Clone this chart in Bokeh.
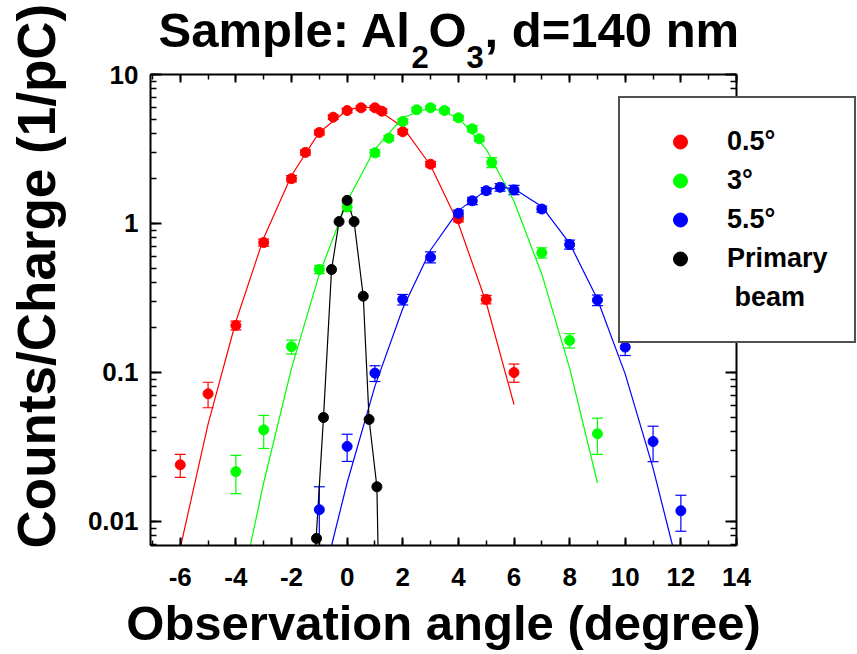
import math
from bokeh.plotting import figure
from bokeh.models import (Range1d, LinearAxis, LogAxis, SingleIntervalTicker, LogTicker,
                          CustomJSTickFormatter, Whisker, TeeHead, ColumnDataSource, Label,
                          Legend, LegendItem)
from bokeh.embed import file_html
from bokeh.resources import INLINE

# ---------------- data ----------------
red_x = [-6, -5, -4, -3, -2, -1.5, -1, -0.5, 0, 0.5, 1, 1.25, 2, 3, 4, 5, 6]
red_y = [0.024, 0.072, 0.207, 0.745, 2.0, 3.0, 4.08, 5.17, 5.73, 5.98, 5.98, 5.67, 4.13, 2.5, 1.075, 0.309, 0.100]
red_err = [0.0042, 0.014, 0.014, 0.04, 0.1, 0.12, 0.15, 0.18, 0.2, 0.2, 0.2, 0.2, 0.15, 0.1, 0.05, 0.02, 0.014]

green_x = [-4, -3, -2, -1, 0, 1, 1.5, 2, 2.5, 3, 3.5, 4, 4.5, 4.75, 5.2, 7, 8, 9]
green_y = [0.0216, 0.0412, 0.149, 0.491, 1.29, 2.98, 3.74, 4.84, 5.8, 5.98, 5.73, 5.12, 4.32, 3.7, 2.57, 0.636, 0.164, 0.0388]
green_err = [0.0062, 0.0103, 0.016, 0.03, 0.08, 0.15, 0.15, 0.2, 0.2, 0.2, 0.2, 0.2, 0.2, 0.15, 0.2, 0.05, 0.018, 0.0106]

blue_x = [-1, 0, 1, 2, 3, 4, 4.5, 5, 5.5, 6, 7, 8, 9, 10, 11, 12]
blue_y = [0.012, 0.0319, 0.099, 0.309, 0.594, 1.17, 1.42, 1.66, 1.75, 1.68, 1.25, 0.723, 0.306, 0.148, 0.0344, 0.0118]
blue_err = [0.0051, 0.0066, 0.012, 0.025, 0.05, 0.06, 0.08, 0.08, 0.1, 0.12, 0.06, 0.05, 0.025, 0.018, 0.0092, 0.0032]

black_x = [-1.1, -0.85, -0.56, -0.29, 0, 0.25, 0.58, 0.79, 1.07]
black_y = [0.0077, 0.0499, 0.491, 1.03, 1.43, 1.03, 0.325, 0.0484, 0.0171]

# fitted curves
red_fit_x = [-5.98, -5, -4, -3, -2, -1, 0, 0.5, 1, 2, 3, 4, 5, 6]
red_fit_y = [0.0069, 0.045, 0.22, 0.80, 2.1, 4.1, 5.75, 6.08, 5.95, 4.45, 2.45, 1.0, 0.295, 0.061]
green_fit_x = [-3.48, -3, -2, -1, 0, 1, 2, 3, 4, 5, 6, 7, 8, 9]
green_fit_y = [0.0069, 0.0182, 0.107, 0.457, 1.41, 3.16, 5.13, 6.03, 5.13, 3.16, 1.41, 0.457, 0.107, 0.0182]
blue_fit_x = [-0.56, 0, 1, 2, 3, 4, 5, 5.5, 6, 7, 8, 9, 10, 11, 11.70]
blue_fit_y = [0.0069, 0.0182, 0.081, 0.269, 0.664, 1.22, 1.675, 1.755, 1.71, 1.30, 0.736, 0.31, 0.0975, 0.0228, 0.0069]
black_fit_x = [-1.13, -0.85, -0.56, -0.29, 0, 0.25, 0.58, 0.79, 1.07, 1.11]
black_fit_y = [0.0069, 0.0499, 0.491, 1.03, 1.43, 1.03, 0.325, 0.0484, 0.0171, 0.0069]

series_labels = ["0.5°", "3°", "5.5°", "Primary", "\u00a0beam"]
x_tick_interval = 2

# ---------------- layout constants ----------------
W, H = 857, 654
BOX_L, BOX_R, BOX_T, BOX_B = 150, 736, 74, 545   # plot box in canvas pixels
XMIN, XMAX = -7.07, 14.0
YMIN, YMAX = 0.0069, 10.0
FONT = "Liberation Sans"
TICK_FONT = "26px"

ppx = (BOX_R - BOX_L) / (XMAX - XMIN)
dpp = math.log10(YMAX / YMIN) / (BOX_B - BOX_T)
x_range = Range1d(XMIN - BOX_L / ppx, XMAX + (W - BOX_R) / ppx)
y_range = Range1d(YMIN * 10 ** (-(H - BOX_B) * dpp), YMAX * 10 ** (BOX_T * dpp))

p = figure(width=W, height=H, x_range=x_range, y_range=y_range, y_axis_type="log",
           output_backend="svg", toolbar_location=None,
           min_border_left=0, min_border_right=0, min_border_top=0, min_border_bottom=0)
p.grid.visible = False
p.outline_line_color = None
p.background_fill_color = "white"
p.border_fill_color = "white"

xt = SingleIntervalTicker(interval=x_tick_interval, num_minor_ticks=2)
yt = LogTicker(num_minor_ticks=10)
xfmt = CustomJSTickFormatter(code="return String(tick);")
yfmt = CustomJSTickFormatter(code="return String(parseFloat(tick.toPrecision(3)));")


def style_axis(ax, major_in, minor_in, labels=True, standoff=10):
    ax.axis_line_width = 2
    ax.axis_line_color = "black"
    ax.major_tick_in = major_in
    ax.major_tick_out = 0
    ax.minor_tick_in = minor_in
    ax.minor_tick_out = 0
    ax.major_tick_line_width = 2
    ax.minor_tick_line_width = 1.5
    ax.major_label_standoff = standoff
    ax.major_label_text_font = FONT
    ax.major_label_text_font_style = "bold"
    ax.major_label_text_font_size = TICK_FONT
    ax.major_label_text_color = "black" if labels else None


bx = p.xaxis[0]
bx.ticker = xt
bx.formatter = xfmt
bx.fixed_location = YMIN
bx.bounds = (XMIN, XMAX)
style_axis(bx, 8, 5, True, 22)

ly = p.yaxis[0]
ly.ticker = yt
ly.formatter = yfmt
ly.fixed_location = XMIN
ly.bounds = (YMIN, YMAX)
style_axis(ly, 11, 6, True, 12)

tx = LinearAxis(ticker=xt, fixed_location=YMAX, bounds=(XMIN, XMAX))
style_axis(tx, 8, 5, False)
p.add_layout(tx, "above")
ry = LogAxis(ticker=yt, fixed_location=XMAX, bounds=(YMIN, YMAX))
style_axis(ry, 11, 6, False)
p.add_layout(ry, "right")

# ---------------- series ----------------
series = [
    (red_x, red_y, red_err, red_fit_x, red_fit_y, "#ff0000"),
    (green_x, green_y, green_err, green_fit_x, green_fit_y, "#00ff00"),
    (blue_x, blue_y, blue_err, blue_fit_x, blue_fit_y, "#0000ff"),
    (black_x, black_y, None, black_fit_x, black_fit_y, "#000000"),
]
for xs, ys, errs, fx, fy, c in series:
    p.line(fx, fy, line_color=c, line_width=1.2)
    if errs is not None:
        src = ColumnDataSource(dict(x=xs, lo=[y - e for y, e in zip(ys, errs)],
                                    hi=[y + e for y, e in zip(ys, errs)]))
        w = Whisker(source=src, base="x", upper="hi", lower="lo", dimension="height",
                    line_color=c, line_width=1.2,
                    upper_head=TeeHead(size=11, line_color=c, line_width=1.2),
                    lower_head=TeeHead(size=11, line_color=c, line_width=1.2))
        p.add_layout(w)
scatters = [p.scatter(xs, ys, size=10, color=c, marker="circle")
            for xs, ys, errs, fx, fy, c in series]

dummy = p.scatter(x=[], y=[], size=1, fill_alpha=0, line_alpha=0)

items = [LegendItem(label=series_labels[i], renderers=[scatters[i]]) for i in range(4)]
items.append(LegendItem(label=series_labels[4], renderers=[dummy]))
legend = Legend(items=items, location=(618, H - 343), orientation="vertical",
                padding=26, spacing=4, margin=0, glyph_width=68, glyph_height=35,
                label_height=35, label_standoff=13, label_text_font=FONT,
                label_text_font_style="bold", label_text_font_size="27px",
                label_text_color="black",
                border_line_color="#505050", border_line_width=2, border_line_alpha=1.0,
                background_fill_color="white", background_fill_alpha=1.0)
p.add_layout(legend)


# ---------------- texts ----------------
BASE_SHIFT = 0.39  # correction (in em) so the text baseline lands on the wanted pixel


def lab(text, x, y, size, rotated=False, **kw):
    if rotated:
        x = x - BASE_SHIFT * size
        kw["angle"] = math.pi / 2
    else:
        y = y - BASE_SHIFT * size
    p.add_layout(Label(x=x, y=H - y, x_units="screen", y_units="screen", text=text,
                       text_font=FONT, text_font_style="bold", text_font_size=f"{size}px",
                       text_color="black", text_baseline="alphabetic", **kw))


# title: main text with subscripts (x, baseline y in canvas pixels)
lab("Sample: Al", 158, 49, 49, text_align="left")
lab("2", 411, 69, 31, text_align="left")
lab("O", 428, 49, 49, text_align="left")
lab("3", 466, 69, 31, text_align="left")
lab(", d=140 nm", 484, 49, 49, text_align="left")

lab("Observation angle (degree)", (BOX_L + BOX_R) / 2, 642, 49, text_align="center")
lab("Counts/Charge (1/pC)", 57, 548, 53, rotated=True, text_align="left")

open("out.html", "w").write(file_html(p, INLINE))
